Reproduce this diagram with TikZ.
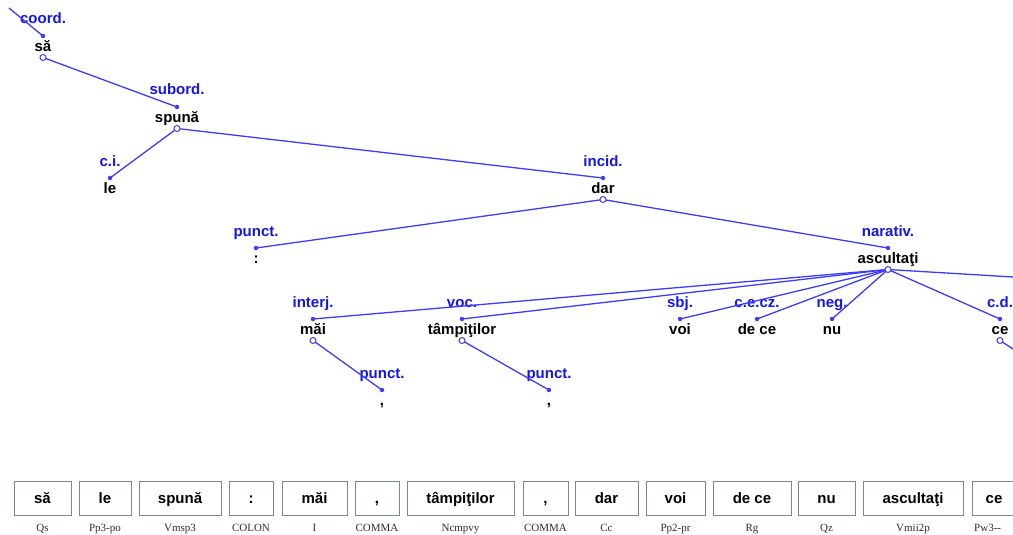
\documentclass[tikz,border=0pt]{standalone}
\usepackage{fontspec}
\setmainfont{Liberation Sans}
\newfontfamily\tagfont{Liberation Serif}
\definecolor{edgeblue}{RGB}{60,60,255}
\definecolor{labblue}{RGB}{20,20,235}
\definecolor{boxgray}{RGB}{125,135,145}
\definecolor{taggray}{RGB}{45,45,45}
\newcommand{\TreeTok}[5]{%
  \coordinate (#1in) at (#2,#3);
  \coordinate (#1out) at (#2,#3+21.5);
  \node[rel] (#1lab) at (#2,#3-12) {#4};
  \node[word] (#1w) at (#2,#3+15.5) {#5};
}
\newcommand{\BoxTok}[5]{%
  \node[tokbox, minimum width=#3-#2] (#1box) at ({(#2+#3)/2},498) {#4};
  \node[tag] (#1tag) at ({(#2+#3)/2},531) {#5};
}
\begin{document}
\begin{tikzpicture}[x=1pt,y=-1pt,
  word/.style={font=\fontsize{15}{15}\selectfont\bfseries, anchor=base, inner sep=0pt},
  rel/.style={font=\fontsize{15}{15}\selectfont\bfseries, text=labblue, anchor=base, inner sep=0pt},
  dotm/.style={circle, fill=edgeblue, inner sep=0pt, minimum size=4.5pt},
  ringm/.style={circle, draw=edgeblue, fill=white, line width=1pt, inner sep=0pt, minimum size=6pt},
  edge/.style={draw=edgeblue, line width=1.3pt},
  tokbox/.style={draw=boxgray, line width=0.9pt, inner sep=0pt, minimum height=34pt,
    text height=10.5pt, text depth=0pt, font=\fontsize{15}{15}\selectfont\bfseries},
  tag/.style={font=\tagfont\fontsize{11}{11}\selectfont, text=taggray, anchor=base, inner sep=0pt}
]
\useasboundingbox (0,0) rectangle (1013,535);
\clip (0,0) rectangle (1013,535);
% tree tokens
\TreeTok{sa}{43}{36}{coord.}{să}
\TreeTok{spuna}{177}{107}{subord.}{spună}
\TreeTok{le}{110}{178}{c.i.}{le}
\TreeTok{dar}{603}{178}{incid.}{dar}
\TreeTok{colon}{256}{248}{punct.}{:}
\TreeTok{asc}{888}{248}{narativ.}{ascultaţi}
\TreeTok{mai}{313}{319}{interj.}{măi}
\TreeTok{tamp}{462}{319}{voc.}{tâmpiţilor}
\TreeTok{voi}{680}{319}{sbj.}{voi}
\TreeTok{dece}{757}{319}{c.e.cz.}{de ce}
\TreeTok{nu}{832}{319}{neg.}{nu}
\TreeTok{ce}{1000}{319}{c.d.}{ce}
\TreeTok{commaA}{382}{390}{punct.}{,}
\TreeTok{commaB}{549}{390}{punct.}{,}
\coordinate (offA) at (9,8);
\coordinate (offB) at (1013,277);
\coordinate (offC) at (1013,349);
% edges
\draw[edge] (offA) -- (sain);
\draw[edge] (saout) -- (spunain);
\draw[edge] (spunaout) -- (lein);
\draw[edge] (spunaout) -- (darin);
\draw[edge] (darout) -- (colonin);
\draw[edge] (darout) -- (ascin);
\foreach \t in {mai,tamp,voi,dece,nu,ce}{\draw[edge] (ascout) -- (\t in);}
\draw[edge] (ascout) -- (offB);
\draw[edge] (maiout) -- (commaAin);
\draw[edge] (tampout) -- (commaBin);
\draw[edge] (ceout) -- (offC);
% markers
\foreach \t in {sa,spuna,le,dar,colon,asc,mai,tamp,voi,dece,nu,ce,commaA,commaB}{\node[dotm] at (\t in) {};}
\foreach \t in {sa,spuna,dar,asc,mai,tamp,ce}{\node[ringm] at (\t out) {};}
% token boxes
\BoxTok{bsa}{14}{71}{să}{Qs}
\BoxTok{ble}{79}{131}{le}{Pp3-po}
\BoxTok{bspuna}{139}{221}{spună}{Vmsp3}
\BoxTok{bcolon}{229}{273}{:}{COLON}
\BoxTok{bmai}{282}{347}{măi}{I}
\BoxTok{bcommaA}{355}{399}{,}{COMMA}
\BoxTok{btamp}{407}{514}{tâmpiţilor}{Ncmpvy}
\BoxTok{bcommaB}{523}{568}{,}{COMMA}
\BoxTok{bdar}{575}{638}{dar}{Cc}
\BoxTok{bvoi}{646}{705}{voi}{Pp2-pr}
\BoxTok{bdece}{713}{791}{de ce}{Rg}
\BoxTok{bnu}{798}{855}{nu}{Qz}
\BoxTok{basc}{863}{963}{ascultaţi}{Vmii2p}
\node[tokbox, minimum width=44pt] (bcebox) at (994,498) {ce};
\node[tag, anchor=base west] (bcetag) at (974,531) {Pw3-{}-};
\end{tikzpicture}
\end{document}
